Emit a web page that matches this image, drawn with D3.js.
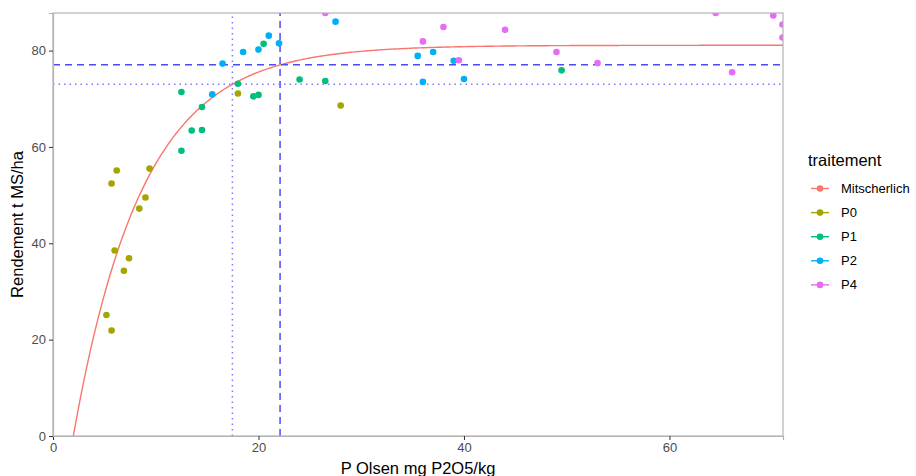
<!DOCTYPE html>
<html>
<head>
<meta charset="utf-8">
<script src="https://cdn.jsdelivr.net/npm/d3@7"></script>
<style>
  body { margin: 0; background: #fff; }
  svg { font-family: "Liberation Sans", Arial, sans-serif; }
</style>
</head>
<body>
<svg id="chart" width="916" height="476"></svg>
<script>
// points: P Olsen (x) and rendement (y) per traitement
var p0X = [6.2, 5.7, 9.4, 9.0, 8.4, 6.0, 7.4, 6.9, 5.2, 5.7, 18.0, 28.0];
var p0Y = [55.1, 52.4, 55.5, 49.5, 47.2, 38.5, 36.9, 34.3, 25.1, 21.9, 71.1, 68.6];
var p1X = [12.5, 12.5, 14.5, 13.5, 14.5, 18.0, 19.5, 20.0, 20.5, 24.0, 26.5, 49.5];
var p1Y = [59.2, 71.4, 68.3, 63.4, 63.5, 73.1, 70.5, 70.8, 81.4, 74.0, 73.7, 75.9];
var p2X = [16.5, 15.5, 18.5, 20.0, 21.0, 22.0, 27.5, 35.5, 37.0, 36.0, 39.0, 40.0];
var p2Y = [77.3, 70.9, 79.7, 80.2, 83.1, 81.5, 86.0, 78.9, 79.7, 73.5, 77.9, 74.1];
var p4X = [26.5, 36.0, 38.0, 39.5, 44.0, 49.0, 53.0, 64.5, 66.1, 70.1, 71.0, 71.0];
var p4Y = [87.8, 81.9, 84.9, 78.0, 84.3, 79.7, 77.4, 87.8, 75.5, 87.3, 85.4, 82.7];

// Mitscherlich fit: y = A * (1 - exp(-k * (x - x0)))
var mitA = 81.1, mitK = 0.1488, mitX0 = 1.98;
// reference lines (90% and 95% of the plateau)
var refX = [17.46, 22.1];
var refY = [72.99, 77.05];

var categories = ["Mitscherlich", "P0", "P1", "P2", "P4"];
var colors = ["#F8766D", "#A3A500", "#00BF7D", "#00B0F6", "#E76BF3"];
var xTicks = [0, 20, 40, 60];
var yTicks = [0, 20, 40, 60, 80];

var svg = d3.select("#chart");
var margin = { top: 13, left: 53, right: 133, bottom: 40 };
var W = 916, H = 476;

var x = d3.scaleLinear().domain([0, 71.05]).range([margin.left, W - margin.right]);
var y = d3.scaleLinear().domain([0, 87.8]).range([H - margin.bottom, margin.top]);
var color = d3.scaleOrdinal().domain(categories).range(colors);

svg.append("clipPath").attr("id", "clip")
  .append("rect")
  .attr("x", x(0)).attr("y", y(87.8))
  .attr("width", x(71.05) - x(0)).attr("height", y(0) - y(87.8));

var plot = svg.append("g").attr("clip-path", "url(#clip)");

// fitted curve
var curveX = d3.range(mitX0, 71.2, 0.2);
var line = d3.line()
  .x(function(d) { return x(d); })
  .y(function(d) { return y(mitA * (1 - Math.exp(-mitK * (d - mitX0)))); });
plot.append("path").datum(curveX)
  .attr("d", line)
  .attr("fill", "none")
  .attr("stroke", color("Mitscherlich"))
  .attr("stroke-width", 1.4);

// reference lines
var refStyle = [{ dash: "1.5,4", col: "#7b7bff" }, { dash: "7,5", col: "#4a4aff" }];
refX.forEach(function(v, i) {
  plot.append("line")
    .attr("x1", x(v)).attr("x2", x(v))
    .attr("y1", y(0)).attr("y2", y(87.8))
    .attr("stroke", refStyle[i].col).attr("stroke-width", 1.5)
    .attr("stroke-dasharray", refStyle[i].dash);
});
refY.forEach(function(v, i) {
  plot.append("line")
    .attr("x1", x(0)).attr("x2", x(71.05))
    .attr("y1", y(v)).attr("y2", y(v))
    .attr("stroke", refStyle[i].col).attr("stroke-width", 1.5)
    .attr("stroke-dasharray", refStyle[i].dash);
});

// points
var groups = [["P0", p0X, p0Y], ["P1", p1X, p1Y], ["P2", p2X, p2Y], ["P4", p4X, p4Y]];
groups.forEach(function(g) {
  plot.selectAll(null)
    .data(g[1])
    .enter().append("circle")
    .attr("cx", function(d) { return x(d); })
    .attr("cy", function(d, i) { return y(g[2][i]); })
    .attr("r", 3.3)
    .attr("fill", color(g[0]));
});

// panel border
svg.append("rect")
  .attr("x", x(0)).attr("y", y(87.8))
  .attr("width", x(71.05) - x(0)).attr("height", y(0) - y(87.8))
  .attr("fill", "none").attr("stroke", "#b3b3b3").attr("stroke-width", 1.2);

// axes
var xAxis = svg.append("g")
  .attr("transform", "translate(0," + y(0) + ")")
  .call(d3.axisBottom(x).tickValues(xTicks).tickSize(4).tickPadding(3));
var yAxis = svg.append("g")
  .attr("transform", "translate(" + x(0) + ",0)")
  .call(d3.axisLeft(y).tickValues(yTicks).tickSize(4).tickPadding(3));
[xAxis, yAxis].forEach(function(a) {
  a.select(".domain").attr("stroke", "#b3b3b3").attr("stroke-width", 1.2);
  a.selectAll(".tick line").attr("stroke", "#333").attr("stroke-width", 1);
  a.selectAll(".tick text").attr("fill", "#4d4d4d").style("font-size", "13px");
});

// axis titles
svg.append("text")
  .attr("x", (x(0) + x(71.05)) / 2).attr("y", 474)
  .attr("text-anchor", "middle").style("font-size", "16.5px").attr("fill", "#000")
  .text("P Olsen mg P2O5/kg");
svg.append("text")
  .attr("transform", "translate(23," + (y(0) + y(87.8)) / 2 + ") rotate(-90)")
  .attr("text-anchor", "middle").style("font-size", "16.5px").attr("fill", "#000")
  .text("Rendement t MS/ha");

// legend
var legend = svg.append("g");
legend.append("text")
  .attr("x", 808).attr("y", 166)
  .style("font-size", "16.5px")
  .text("traitement");
categories.forEach(function(c, i) {
  var yy = 188.5 + i * 24.1;
  legend.append("line")
    .attr("x1", 811).attr("x2", 829).attr("y1", yy).attr("y2", yy)
    .attr("stroke", color(c)).attr("stroke-width", 1.4);
  legend.append("circle")
    .attr("cx", 820).attr("cy", yy).attr("r", 3.3)
    .attr("fill", color(c));
  legend.append("text")
    .attr("x", 841).attr("y", yy + 4.5)
    .style("font-size", "13px")
    .text(c);
});
</script>
</body>
</html>
